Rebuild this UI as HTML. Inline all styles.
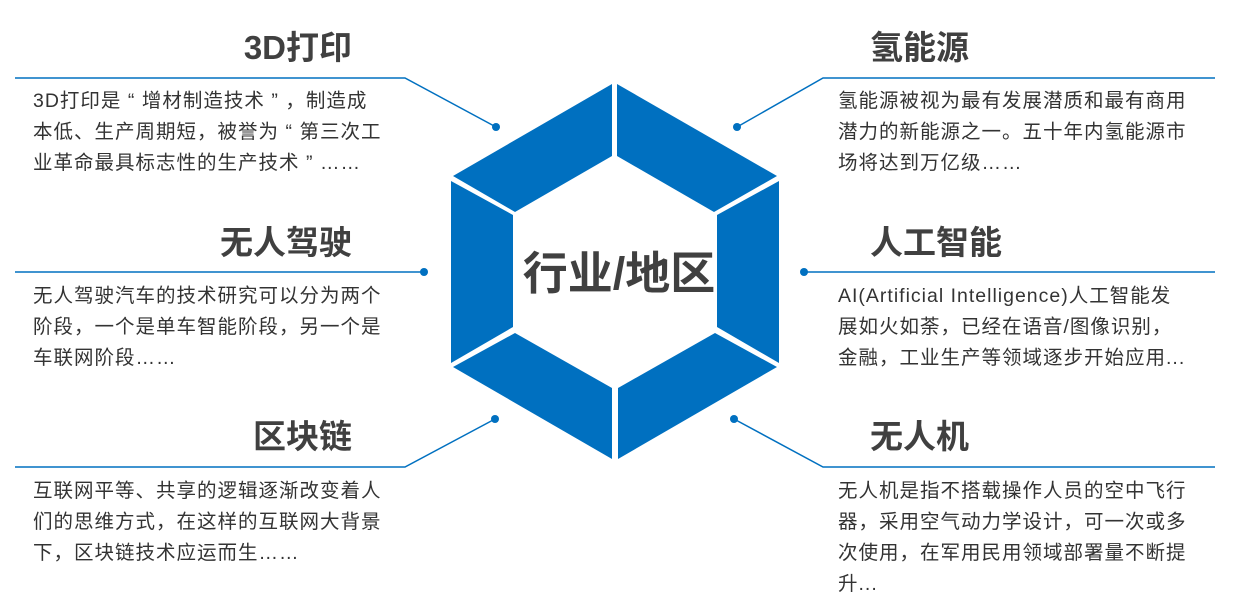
<!DOCTYPE html>
<html><head><meta charset="utf-8"><style>
body{margin:0;width:1239px;height:610px;background:#fff;position:relative;overflow:hidden;font-family:"Liberation Sans","Noto Sans CJK SC",sans-serif;}
.t{position:absolute;font-size:33px;font-weight:bold;color:#404040;line-height:40px;white-space:nowrap}
.l{text-align:right;right:887px}
.r{left:870px}
.b{position:absolute;font-size:19.5px;letter-spacing:1px;color:#333;line-height:31px;white-space:nowrap;}
.q{display:inline-block;width:1.05em;text-align:center}
.c{position:absolute;left:0;top:252px;width:1238px;text-align:center;font-size:45px;font-weight:bold;color:#404040;line-height:44px}
</style></head><body>
<svg width="1239" height="610" style="position:absolute;left:0;top:0">
<g fill="#0070C0">
<polygon points="612,84 612,156 515,212 453,176"/>
<polygon points="617,84 777,176 714,212 617,156"/>
<polygon points="779,181 779,363 717,327 717,215"/>
<polygon points="777,367 618,459 618,388 715,333"/>
<polygon points="453,367 612,459 612,388 515,333"/>
<polygon points="451,181 451,363 513,327 513,215"/>
</g>
<g stroke="#0070C0" stroke-width="1.5" fill="none">
<polyline points="496,127 405,78 15,78"/>
<polyline points="737,127 823,78 1215,78"/>
<polyline points="424,272 15,272"/>
<polyline points="804,272 1215,272"/>
<polyline points="495,419 405,467 15,467"/>
<polyline points="734,419 823,467 1215,467"/>
</g>
<g fill="#0070C0">
<circle cx="496" cy="127" r="4"/><circle cx="737" cy="127" r="4"/>
<circle cx="424" cy="272" r="4"/><circle cx="804" cy="272" r="4"/>
<circle cx="495" cy="419" r="4"/><circle cx="734" cy="419" r="4"/>
</g>
</svg>
<div class="c">行业/地区</div>
<div class="t l" style="top:28px">3D打印</div>
<div class="t l" style="top:223px">无人驾驶</div>
<div class="t l" style="top:417px">区块链</div>
<div class="t r" style="top:28px">氢能源</div>
<div class="t r" style="top:223px">人工智能</div>
<div class="t r" style="top:417px">无人机</div>
<div class="b" style="left:33px;top:86px">3D打印是<span class="q">“</span>增材制造技术<span class="q">”</span>，制造成<br>本低、生产周期短，被誉为<span class="q">“</span>第三次工<br>业革命最具标志性的生产技术<span class="q">”</span>……</div>
<div class="b" style="left:33px;top:281px">无人驾驶汽车的技术研究可以分为两个<br>阶段，一个是单车智能阶段，另一个是<br>车联网阶段……</div>
<div class="b" style="left:33px;top:476px">互联网平等、共享的逻辑逐渐改变着人<br>们的思维方式，在这样的互联网大背景<br>下，区块链技术应运而生……</div>
<div class="b" style="left:838px;top:86px">氢能源被视为最有发展潜质和最有商用<br>潜力的新能源之一。五十年内氢能源市<br>场将达到万亿级……</div>
<div class="b" style="left:838px;top:281px">AI(Artificial Intelligence)人工智能发<br>展如火如荼，已经在语音/图像识别，<br>金融，工业生产等领域逐步开始应用...</div>
<div class="b" style="left:838px;top:476px">无人机是指不搭载操作人员的空中飞行<br>器，采用空气动力学设计，可一次或多<br>次使用，在军用民用领域部署量不断提<br>升...</div>
</body></html>
